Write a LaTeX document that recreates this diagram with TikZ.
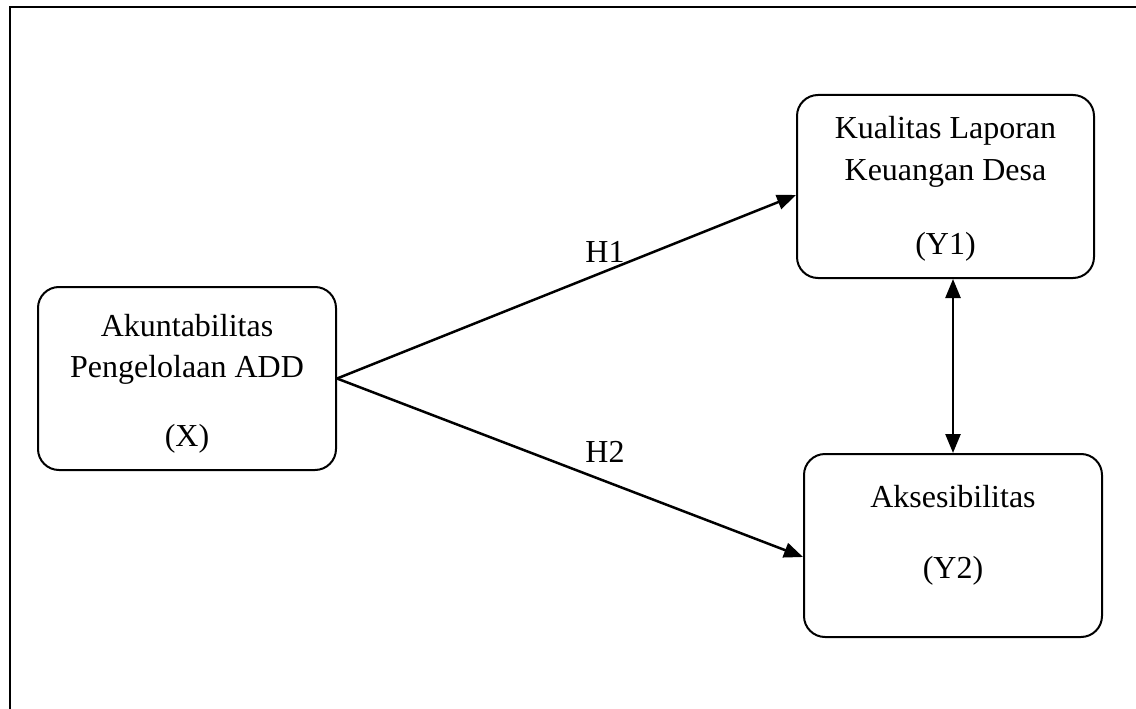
\documentclass[tikz,border=0pt]{standalone}
\usepackage{fontspec}
\setmainfont{Liberation Serif}
\usetikzlibrary{arrows.meta,calc}
\begin{document}
\begin{tikzpicture}[x=1pt,y=-1pt,
  box/.style={draw,line width=2pt,rounded corners=21pt,inner sep=0pt},
  txt/.style={anchor=base,inner sep=0pt,font=\fontsize{32}{38}\selectfont},
  conn/.style={line width=2.5pt,-{Triangle[length=19pt,width=15pt]}},
  dconn/.style={line width=2.5pt,{Triangle[length=19pt,width=15pt]}-{Triangle[length=19pt,width=15pt]}}]
\useasboundingbox (0,0) rectangle (1136,709);
% frame
\coordinate (fa) at (10,709);
\coordinate (fb) at (10,7);
\coordinate (fc) at (1136,7);
\draw[line width=2.4pt] (fa) -- (fb) -- (fc);
% boxes
\node[box,minimum width=298pt,minimum height=183pt] (X) at (187,378.5) {};
\node[box,minimum width=297pt,minimum height=183pt] (Y1) at (945.5,186.5) {};
\node[box,minimum width=298pt,minimum height=183pt] (Y2) at (953,545.5) {};
% texts
\node[txt] (x1) at (187,336) {Akuntabilitas};
\node[txt] (x2) at (187,377) {Pengelolaan ADD};
\node[txt] (x3) at (187,446) {(X)};
\node[txt] (y11) at (945.5,139) {Kualitas Laporan};
\node[txt] (y12) at (945.5,180) {Keuangan Desa};
\node[txt] (y13) at (945.5,254) {(Y1)};
\node[txt] (y21) at (953,507) {Aksesibilitas};
\node[txt] (y22) at (953,578) {(Y2)};
% connectors
\draw[conn] (X.east) -- ([yshift=-8.5pt]Y1.west);
\draw[conn] (X.east) -- ([yshift=-11.5pt]Y2.west);
\draw[dconn] (Y1.south -| Y2.north) -- (Y2.north);
% labels
\node[txt] (h1) at (605,262) {H1};
\node[txt] (h2) at (605,462) {H2};
\end{tikzpicture}
\end{document}
